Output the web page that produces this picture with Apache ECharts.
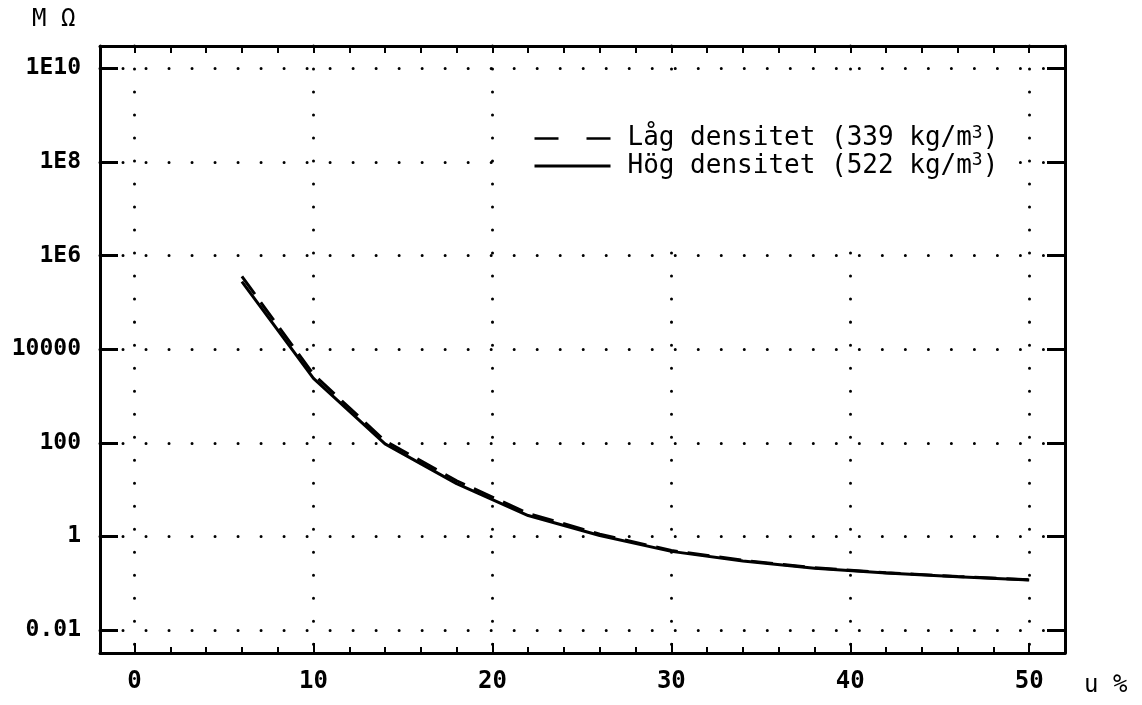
<!DOCTYPE html>
<html>
<head>
<meta charset="utf-8">
<script src="https://cdn.jsdelivr.net/npm/echarts@6/dist/echarts.min.js"></script>
<style>html,body{margin:0;padding:0;background:#fff}#c{width:1142px;height:705px}</style>
</head>
<body>
<div id="c"></div>
<script>
// moisture content u (%)
const moisture = [6, 10, 14, 18, 22, 26, 30, 34, 38, 42, 46, 50];
// resistance (M ohm)
const lowDensity  = [3.6e5, 2900, 110, 15.5, 3.1, 1.12, 0.50, 0.31, 0.215, 0.168, 0.14, 0.119];
const highDensity = [2.8e5, 2400, 95, 13.5, 2.8, 1.05, 0.48, 0.30, 0.21, 0.166, 0.138, 0.117];
const seriesNames = ['Låg densitet (339 kg/m³)', 'Hög densitet (522 kg/m³)'];
// axis ticks and labels
const xMajorTicks = [0, 10, 20, 30, 40, 50];
const xMinorTicks = [0, 2, 4, 6, 8, 10, 12, 14, 16, 18, 20, 22, 24, 26, 28, 30, 32, 34, 36, 38, 40, 42, 44, 46, 48, 50];
const yTickValues = [0.01, 1, 100, 10000, 1e6, 1e8, 1e10];
const yTickLabels = ['0.01', '1', '100', '10000', '1E6', '1E8', '1E10'];

const X_MIN = -1.93, X_MAX = 52;
const Y_MIN = Math.pow(10, -2.49), Y_MAX = Math.pow(10, 10.48);
const FONT = 'DejaVu Sans Mono';
const dotted = { color: '#000', width: 3, type: [0.01, 23], cap: 'round' };
const frameLine = { show: true, onZero: false, lineStyle: { color: '#000', width: 3 } };

function yLabel(v) {
  const e = Math.round(Math.log10(v));
  for (let i = 0; i < yTickValues.length; i++) {
    if (Math.round(Math.log10(yTickValues[i])) === e) return yTickLabels[i];
  }
  return '';
}

const chart = echarts.init(document.getElementById('c'));
chart.setOption({
  animation: false,
  backgroundColor: '#fff',
  grid: { left: 100, top: 46, right: 77, bottom: 52 },
  xAxis: [
    {
      type: 'value', min: X_MIN, max: X_MAX, position: 'bottom',
      axisLine: frameLine,
      axisTick: { show: true, inside: true, length: 10, lineStyle: { color: '#000', width: 2 }, customValues: xMajorTicks },
      axisLabel: { customValues: xMajorTicks, margin: 17, color: '#000', fontFamily: FONT, fontWeight: 'bold', fontSize: 24 },
      splitLine: { show: true, lineStyle: dotted }
    },
    {
      type: 'value', min: X_MIN, max: X_MAX, position: 'bottom',
      axisLine: { show: false, onZero: false },
      axisTick: { show: true, inside: true, length: 6, lineStyle: { color: '#000', width: 2 }, customValues: xMinorTicks },
      axisLabel: { show: false },
      splitLine: { show: false }
    },
    {
      type: 'value', min: X_MIN, max: X_MAX, position: 'top',
      axisLine: frameLine,
      axisTick: { show: true, inside: true, length: 7, lineStyle: { color: '#000', width: 2 }, customValues: xMinorTicks },
      axisLabel: { show: false },
      splitLine: { show: false }
    }
  ],
  yAxis: [
    {
      type: 'log', logBase: 10, min: Y_MIN, max: Y_MAX, position: 'left',
      axisLine: frameLine,
      axisTick: { show: true, inside: true, length: 18, lineStyle: { color: '#000', width: 3 }, customValues: yTickValues },
      axisLabel: { customValues: yTickValues, formatter: yLabel, margin: 19, color: '#000', fontFamily: FONT, fontWeight: 'bold', fontSize: 23 },
      splitLine: { show: true, lineStyle: dotted }
    },
    {
      type: 'log', logBase: 10, min: Y_MIN, max: Y_MAX, position: 'right',
      axisLine: frameLine,
      axisTick: { show: true, inside: true, length: 18, lineStyle: { color: '#000', width: 3 }, customValues: yTickValues },
      axisLabel: { show: false },
      splitLine: { show: false }
    }
  ],
  legend: {
    orient: 'vertical', left: 528, top: 119, z: 5,
    itemWidth: 76, itemHeight: 14, itemGap: 0,
    selectedMode: false,
    textStyle: {
      color: '#000', fontFamily: FONT, fontSize: 26,
      rich: {
        g: { width: 12, fontSize: 26, lineHeight: 29 },
        a: { color: '#000', fontFamily: FONT, fontSize: 26, lineHeight: 29 },
        s: { color: '#000', fontFamily: FONT, fontSize: 18, lineHeight: 18, verticalAlign: 'top' }
      }
    },
    formatter: function (name) {
      const parts = name.split('³');
      return '{g|}{a|' + parts[0] + '}{s|3}{a|' + parts[1] + '}';
    },
    data: [
      { name: seriesNames[0], itemStyle: { opacity: 0 }, lineStyle: { type: [24, 28], width: 2.5, color: '#000' } },
      { name: seriesNames[1], itemStyle: { opacity: 0 }, lineStyle: { type: 'solid', width: 3, color: '#000' } }
    ]
  },
  graphic: [
    { type: 'rect', z: 1, shape: { x: 506, y: 80, width: 510, height: 166 }, style: { fill: '#fff' } },
    { type: 'text', left: 32, top: 8, style: { text: 'M Ω', fontFamily: FONT, fontSize: 24, fill: '#000' } },
    { type: 'text', left: 1084, top: 674, style: { text: 'u %', fontFamily: FONT, fontSize: 24, fill: '#000' } }
  ],
  series: [
    {
      name: seriesNames[0], type: 'line', xAxisIndex: 0, yAxisIndex: 0,
      data: moisture.map((u, i) => [u, lowDensity[i]]),
      symbol: 'none', itemStyle: { color: '#000' },
      lineStyle: { color: '#000', width: 3, type: [22, 10] }
    },
    {
      name: seriesNames[1], type: 'line', xAxisIndex: 0, yAxisIndex: 0,
      data: moisture.map((u, i) => [u, highDensity[i]]),
      symbol: 'none', itemStyle: { color: '#000' },
      lineStyle: { color: '#000', width: 3, type: 'solid' }
    }
  ]
});
</script>
</body>
</html>
